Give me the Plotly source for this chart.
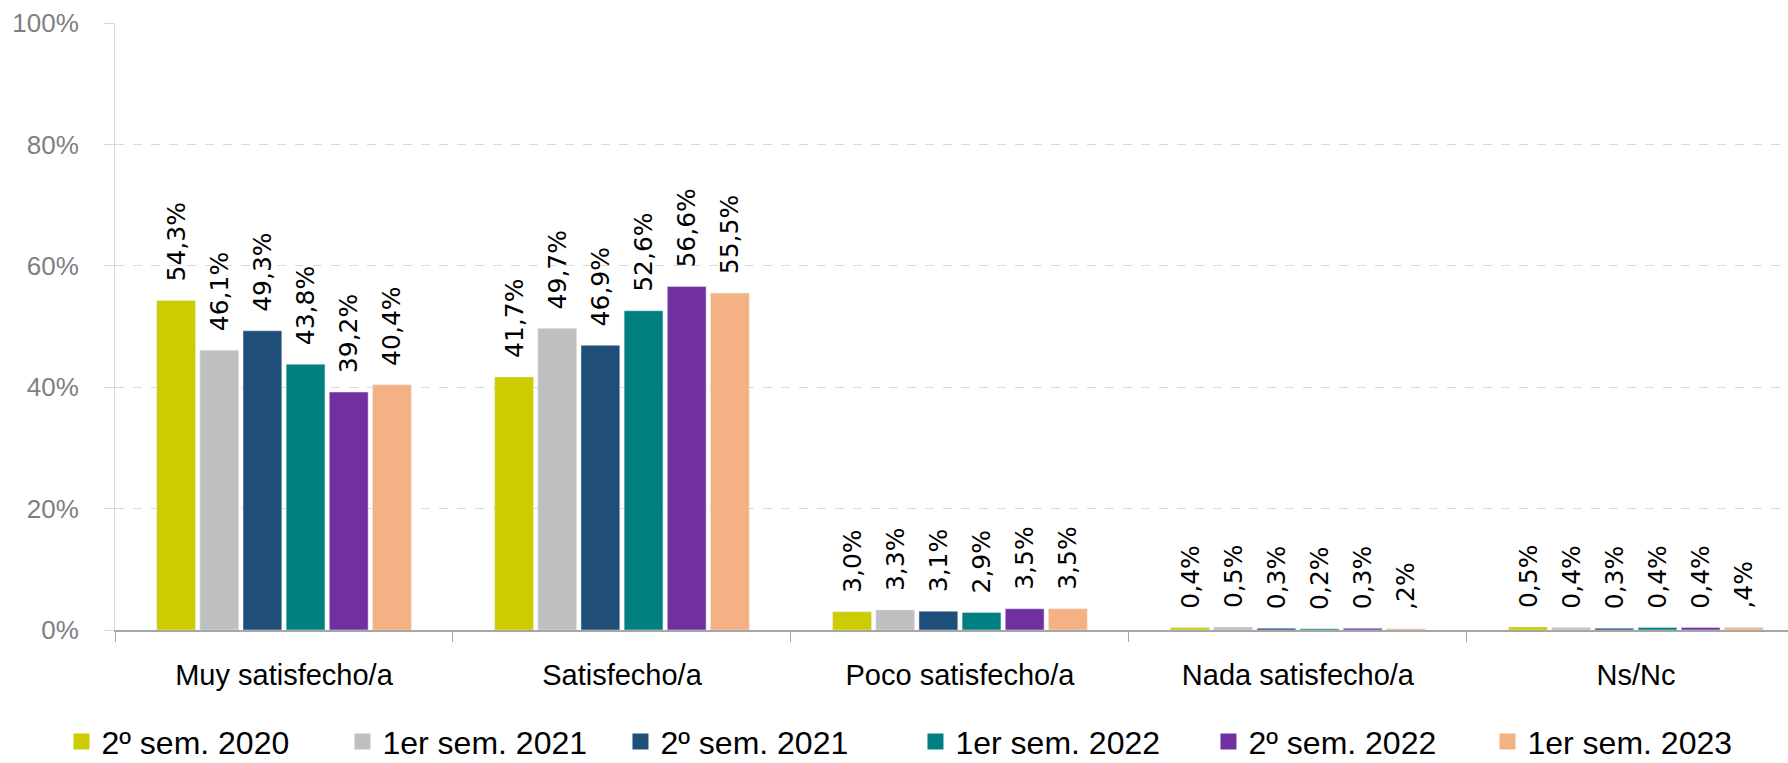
import plotly.graph_objects as go

CATEGORIES = ["Muy satisfecho/a", "Satisfecho/a", "Poco satisfecho/a", "Nada satisfecho/a", "Ns/Nc"]

PERIODS = ["2º sem. 2020", "1er sem. 2021", "2º sem. 2021", "1er sem. 2022", "2º sem. 2022", "1er sem. 2023"]

SEM2_2020 = [54.3, 41.7, 3.0, 0.4, 0.5]
SEM1_2021 = [46.1, 49.7, 3.3, 0.5, 0.4]
SEM2_2021 = [49.3, 46.9, 3.1, 0.3, 0.3]
SEM1_2022 = [43.8, 52.6, 2.9, 0.2, 0.4]
SEM2_2022 = [39.2, 56.6, 3.5, 0.3, 0.4]
SEM1_2023 = [40.4, 55.5, 3.5, 0.2, 0.4]

# the last two labels of the 2023 series are printed cut in the source
LABELS_2023 = ["40,4%", "55,5%", "3,5%", ",2%", ",4%"]

Y_TICKS = [0, 20, 40, 60, 80, 100]

COLORS = ["#CCCC00", "#BFBFBF", "#1F4E79", "#008080", "#7030A0", "#F4B183"]
# spacing of the legend entries, in px
LEGEND_WIDTHS = [236, 233, 250, 248, 234, 200]

SANS = "Liberation Sans"
LABEL_FONT = "DejaVu Sans"


def pct_label(value: float) -> str:
    return f"{value:.1f}".replace(".", ",") + "%"


series = [SEM2_2020, SEM1_2021, SEM2_2021, SEM1_2022, SEM2_2022, SEM1_2023]

fig = go.Figure()

for name, values, color in zip(PERIODS, series, COLORS):
    labels = LABELS_2023 if values is SEM1_2023 else [pct_label(v) for v in values]
    fig.add_trace(
        go.Bar(
            x=CATEGORIES,
            y=values,
            name=name,
            marker={"color": color},
            text=["\u00a0\u00a0" + t for t in labels],
            textposition="outside",
            textangle=-90,
            textfont={"family": LABEL_FONT, "size": 25, "color": "black"},
            constraintext="none",
            cliponaxis=False,
            showlegend=False,
            hoverinfo="skip",
        ),
    )

# legend entries with bigger square swatches
for name, color, lw in zip(PERIODS, COLORS, LEGEND_WIDTHS):
    fig.add_trace(
        go.Scatter(
            x=[None],
            y=[None],
            mode="markers",
            name=name,
            marker={"symbol": "square", "size": 16, "color": color},
            legendwidth=lw,
        ),
    )

fig.update_layout(
    width=1788,
    height=763,
    margin={"l": 115, "r": 0, "t": 23, "b": 133, "autoexpand": False},
    paper_bgcolor="white",
    plot_bgcolor="white",
    barmode="group",
    bargap=0.234,
    bargroupgap=0.1,
    legend={
        "orientation": "h",
        "x": -0.032,
        "xanchor": "left",
        "y": -0.184,
        "yanchor": "middle",
        "font": {"family": SANS, "size": 32, "color": "black"},
        "bgcolor": "rgba(0,0,0,0)",
        "traceorder": "normal",
    },
)

fig.update_xaxes(
    type="category",
    range=[-0.5, 4.45],
    tickson="boundaries",
    ticks="outside",
    ticklen=10,
    tickcolor="#A6A6A6",
    showline=True,
    linecolor="#A6A6A6",
    linewidth=1.5,
    showgrid=False,
    tickfont={"family": SANS, "size": 29, "color": "black"},
    ticklabelstandoff=18,
)

fig.update_yaxes(
    range=[0, 100],
    tickvals=Y_TICKS,
    ticktext=[f"{t}%" for t in Y_TICKS],
    ticks="outside",
    ticklen=10,
    tickcolor="#D9D9D9",
    showline=True,
    linecolor="#D9D9D9",
    showgrid=True,
    gridcolor="#D9D9D9",
    griddash="dash",
    zeroline=False,
    tickfont={"family": SANS, "size": 26, "color": "#808080"},
    ticklabelstandoff=20,
)

# the page keeps the default 8px body margin otherwise
fig.write_html(
    "out.html",
    config={"displayModeBar": False},
    post_script="document.body.style.margin = '0';",
)
